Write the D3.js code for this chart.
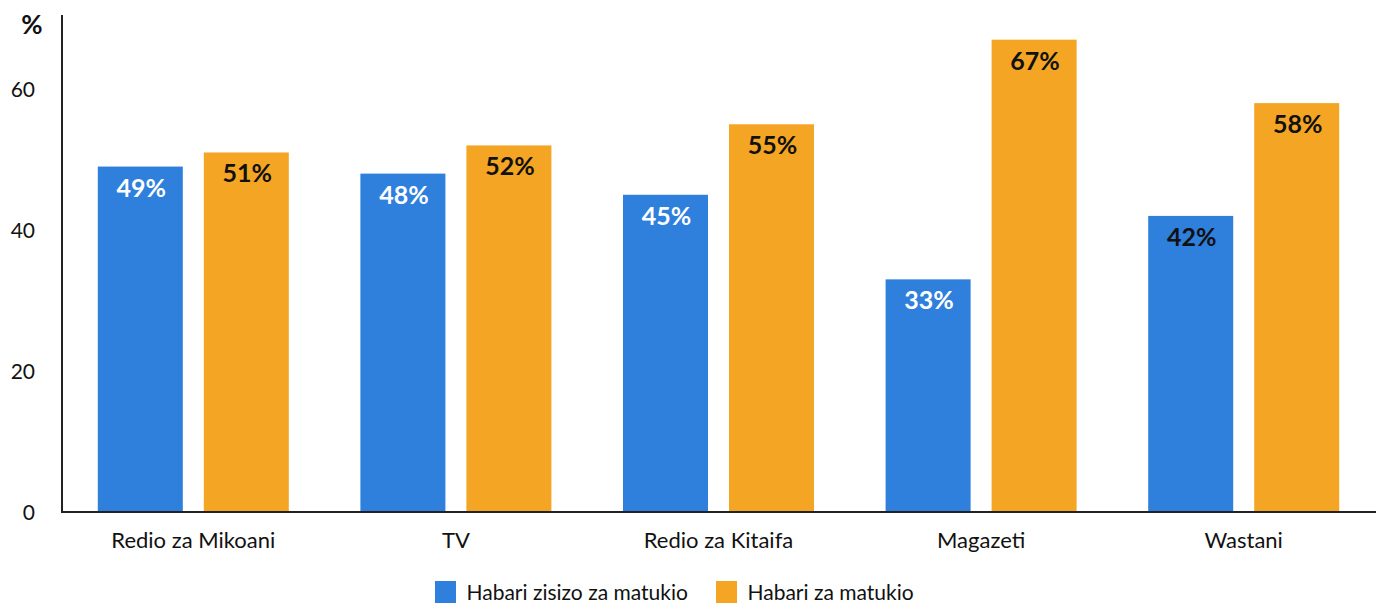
<!DOCTYPE html>
<html><head><meta charset="utf-8">
<script src="https://cdn.jsdelivr.net/npm/d3@7"></script>
<style>body{margin:0;background:#fff;} svg{display:block;font-family:Lato,"Open Sans",sans-serif;}</style>
</head><body>
<svg id="c" width="1376" height="603"></svg>
<script>
const categories = ["Redio za Mikoani","TV","Redio za Kitaifa","Magazeti","Wastani"];
const seriesNames = ["Habari zisizo za matukio","Habari za matukio"];
const notEvent = [49,48,45,33,42];
const event = [51,52,55,67,58];
const yTicks = [0,20,40,60];
const colors = ["#2f7fdd","#f4a524"];
const labelColorsBlue = ["#fff","#fff","#fff","#fff","#111"];

const svg = d3.select("#c");
const x = d3.scaleBand().domain(categories).range([62,1375]);
const y = d3.scaleLinear().domain([0,70.5]).range([512,15]);
const barW = 85, gap = 21;
const offs = [x.bandwidth()/2 - gap/2 - barW, x.bandwidth()/2 + gap/2];

const g = svg.append("g");
const data = categories.map((c,i)=>({c,vals:[notEvent[i],event[i]],i}));
data.forEach(d=>{
  d.vals.forEach((v,s)=>{
    const bx = x(d.c)+offs[s];
    g.append("rect").attr("x",bx).attr("y",y(v)).attr("width",barW).attr("height",y(0)-y(v)).attr("fill",colors[s]);
    g.append("text").attr("x",bx+barW/2+1).attr("y",y(v)+30)
      .attr("text-anchor","middle").attr("font-size",25).attr("font-weight","bold")
      .attr("fill", s===0?labelColorsBlue[d.i]:"#111").text(v+"%");
  });
});

// y axis
const yAxis = d3.axisLeft(y).tickValues(yTicks).tickSize(0).tickPadding(27);
const ya = svg.append("g").attr("transform","translate(62,0)").call(yAxis);
ya.select(".domain").remove();
ya.selectAll("text").attr("font-size",21).attr("fill","#111").attr("font-family","Lato").attr("dy","0.36em");
svg.append("line").attr("x1",62).attr("x2",62).attr("y1",15).attr("y2",513).attr("stroke","#222").attr("stroke-width",2);

// x axis
const xAxis = d3.axisBottom(x).tickSize(0).tickPadding(0);
const xa = svg.append("g").attr("transform","translate(0,512)").call(xAxis);
xa.select(".domain").remove();
xa.selectAll("text").attr("font-size",22).attr("fill","#111").attr("font-family","Lato").attr("dy",0).attr("y",36);
svg.append("line").attr("x1",61).attr("x2",1376).attr("y1",512).attr("y2",512).attr("stroke","#222").attr("stroke-width",2);

svg.append("text").attr("x",32).attr("y",34).attr("text-anchor","middle").attr("font-size",26).attr("font-weight","bold").attr("fill","#111").text("%");

// legend
const legX = [435,716];
seriesNames.forEach((n,s)=>{
  svg.append("rect").attr("x",legX[s]).attr("y",581).attr("width",21).attr("height",22).attr("fill",colors[s]);
  svg.append("text").attr("x",legX[s]+31.5).attr("y",599.5).attr("font-size",21).attr("fill","#111").text(n);
});
</script>
</body></html>
